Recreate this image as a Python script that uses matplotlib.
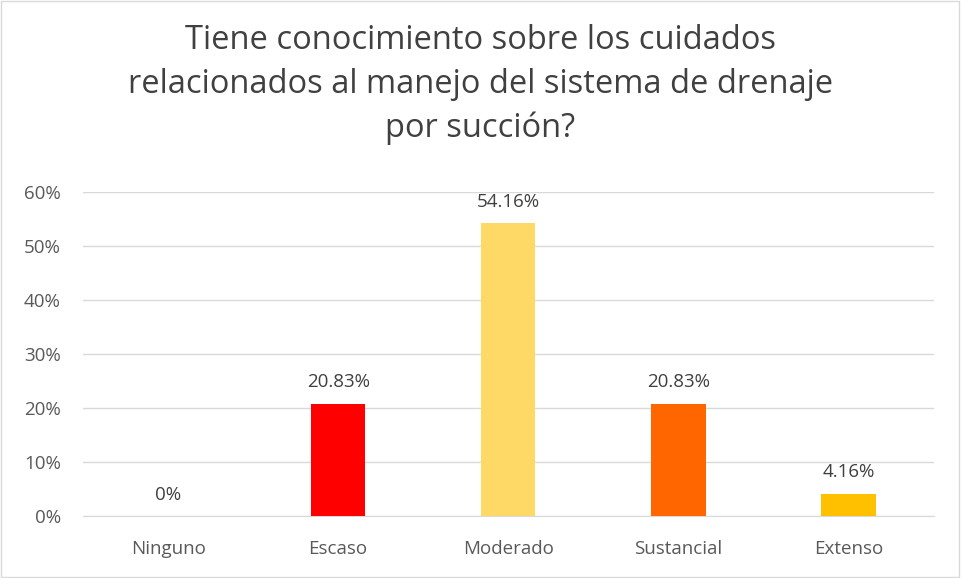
import matplotlib
matplotlib.use("Agg")
import matplotlib.pyplot as plt
from matplotlib.ticker import PercentFormatter, MultipleLocator

# data
categories = ["Ninguno", "Escaso", "Moderado", "Sustancial", "Extenso"]
values = [0.0, 20.83, 54.16, 20.83, 4.16]
labels = ["0%", "20.83%", "54.16%", "20.83%", "4.16%"]
colors = ["#FF0000", "#FF0000", "#FFD966", "#FF6600", "#FFC000"]

plt.rcParams['font.family'] = ['Open Sans', 'DejaVu Sans']

fig = plt.figure(figsize=(9.61, 5.78), dpi=100)
ax = fig.add_axes([0.0864, 0.107, 0.885, 0.561])

x = range(len(categories))
ax.bar(x, values, width=0.32, color=colors, zorder=3)

for i, (v, lab) in enumerate(zip(values, labels)):
    ax.text(i, v + 2.3, lab, ha="center", va="bottom", fontsize=13.5, color="#404040")

ax.set_ylim(0, 60)
ax.set_xlim(-0.5, len(categories) - 0.5)
ax.yaxis.set_major_locator(MultipleLocator(10))
ax.yaxis.set_major_formatter(PercentFormatter(decimals=0))
ax.set_xticks(list(x))
ax.set_xticklabels(categories)
ax.tick_params(axis="both", length=0, labelsize=13.5, labelcolor="#595959")
ax.tick_params(axis="x", pad=17)
ax.tick_params(axis="y", pad=16)
ax.grid(axis="y", color="#D9D9D9", linewidth=1, zorder=0)
for s in ["top", "right", "left"]:
    ax.spines[s].set_visible(False)
ax.spines["bottom"].set_color("#D9D9D9")

fig.text(0.5, 0.958, "Tiene conocimiento sobre los cuidados\nrelacionados al manejo del sistema de drenaje\npor succión?",
         ha="center", va="top", fontsize=23.5, color="#404040", linespacing=1.42)

# light border around the chart
fig.patches.append(plt.Rectangle((0.001, 0.002), 0.997, 0.996, transform=fig.transFigure,
                                 fill=False, edgecolor="#D9D9D9", linewidth=1))

fig.savefig("out.png", dpi=100)
